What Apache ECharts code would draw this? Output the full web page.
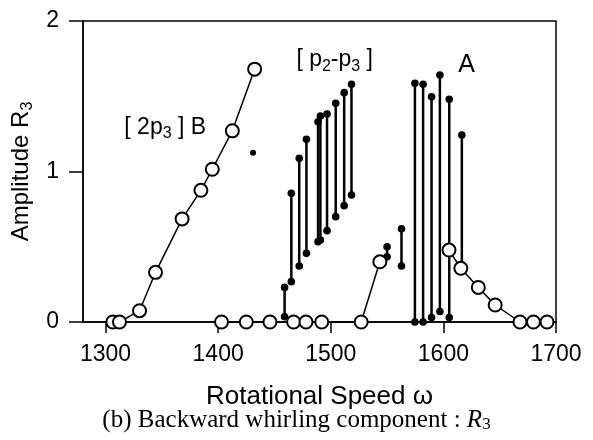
<!DOCTYPE html>
<html>
<head>
<meta charset="utf-8">
<script src="https://cdn.jsdelivr.net/npm/echarts@6/dist/echarts.min.js"></script>
<style>
  html, body { margin: 0; padding: 0; background: #fff; }
  #chart { width: 593px; height: 440px; }
</style>
</head>
<body>
<div id="chart"></div>
<script>
// Branch B (open circles, rising with speed)
const branchBX = [1306.5, 1312.4, 1330.2, 1344.4, 1368, 1384.7, 1394.8, 1412.6, 1432.4];
const branchBY = [0, 0, 0.075, 0.33, 0.685, 0.875, 1.015, 1.27, 1.68];

// Zero-amplitude branch, ending with the jump near 1540
const zeroX = [1403, 1425, 1446, 1467, 1478, 1492, 1527, 1543.6];
const zeroY = [0, 0, 0, 0, 0, 0, 0, 0.40];

// Branch A (open circles, decaying)
const branchAX = [1605, 1615.5, 1631, 1646, 1668, 1680, 1692];
const branchAY = [0.478, 0.357, 0.23, 0.113, 0, 0, 0];

// Quasi-periodic ranges: min/max amplitude at each speed
const rangeX  = [1459, 1465, 1472, 1478.4, 1488.7, 1490.8, 1496.7, 1504.4, 1511.9, 1518.4, 1550, 1562.8, 1574.7, 1582, 1589.5, 1596.9, 1605.2, 1616.4];
const rangeLo = [0.035, 0.268, 0.372, 0.456, 0.534, 0.545, 0.607, 0.70, 0.773, 0.844, 0.434, 0.372, 0, 0, 0.03, 0.07, 0.03, 0.357];
const rangeHi = [0.23, 0.855, 1.088, 1.214, 1.331, 1.369, 1.382, 1.453, 1.524, 1.579, 0.50, 0.62, 1.586, 1.58, 1.497, 1.641, 1.48, 1.243];

// Isolated point
const loneX = [1431];
const loneY = [1.125];

// Axis ticks
const xTicks = [1300, 1400, 1500, 1600, 1700];
const yTicks = [0, 1, 2];

const zip = (xs, ys) => xs.map((x, i) => [x, ys[i]]);

const sans = 'Liberation Sans, Arial, sans-serif';
const serif = 'Liberation Serif, Times New Roman, serif';

const openCircle = {
  symbol: 'circle',
  symbolSize: 13,
  itemStyle: { color: '#fff', borderColor: '#000', borderWidth: 2 },
  lineStyle: { color: '#000', width: 1.5 },
  clip: false,
  z: 4,
  animation: false
};

const chart = echarts.init(document.getElementById('chart'), null, { renderer: 'canvas' });

chart.setOption({
  animation: false,
  backgroundColor: '#fff',
  grid: {
    left: 83, right: 37, top: 21, bottom: 118,
    outerBoundsMode: 'none',
    containLabel: false,
    show: true, borderColor: '#000', borderWidth: 1.5, backgroundColor: 'transparent'
  },
  xAxis: {
    type: 'value',
    min: 1280, max: 1700,
    name: 'Rotational Speed ω',
    nameLocation: 'middle',
    nameGap: 62,
    nameTextStyle: { fontFamily: sans, fontSize: 26, color: '#000' },
    axisLine: { show: true, onZero: false, lineStyle: { color: '#000', width: 1.5 } },
    axisTick: { show: true, length: 11, customValues: xTicks, lineStyle: { color: '#000', width: 1.5 } },
    axisLabel: { customValues: xTicks, margin: 21, fontFamily: sans, fontSize: 23, color: '#000',
      formatter: v => String(v) },
    splitLine: { show: false }
  },
  yAxis: {
    type: 'value',
    min: 0, max: 2, interval: 1,
    name: 'Amplitude R{s|3}',
    nameLocation: 'middle',
    nameRotate: 90,
    nameGap: 45,
    nameTextStyle: {
      fontFamily: sans, fontSize: 24, color: '#000',
      rich: { s: { fontFamily: sans, fontSize: 16, color: '#000', verticalAlign: 'bottom', padding: [12, 0, 0, 0] } }
    },
    axisLine: { show: true, lineStyle: { color: '#000', width: 1.5 } },
    axisTick: { show: true, length: 14, lineStyle: { color: '#000', width: 1.5 } },
    axisLabel: { margin: 24, fontFamily: sans, fontSize: 23, color: '#000',
      customValues: yTicks, formatter: v => String(v) },
    splitLine: { show: false }
  },
  graphic: [{
    type: 'text',
    left: 'center',
    top: 408,
    style: {
      text: '(b) Backward whirling component : {i|R}{s|3}',
      font: '25px ' + serif,
      fill: '#000',
      rich: {
        i: { font: 'italic 25px ' + serif, fill: '#000' },
        s: { font: '17px ' + serif, fill: '#000', verticalAlign: 'bottom', padding: [9, 0, 0, 0] }
      }
    }
  }],
  series: [
    {
      // vertical min-max bars with filled end points
      type: 'custom',
      data: rangeX.map((x, i) => [x, rangeLo[i], rangeHi[i]]),
      clip: false,
      z: 3,
      renderItem: function (params, api) {
        const x = api.value(0);
        const lo = api.coord([x, api.value(1)]);
        const hi = api.coord([x, api.value(2)]);
        return {
          type: 'group',
          children: [
            { type: 'line', shape: { x1: lo[0], y1: lo[1], x2: hi[0], y2: hi[1] },
              style: { stroke: '#000', lineWidth: 2.5 } },
            { type: 'circle', shape: { cx: lo[0], cy: lo[1], r: 3.8 }, style: { fill: '#000' } },
            { type: 'circle', shape: { cx: hi[0], cy: hi[1], r: 3.8 }, style: { fill: '#000' } }
          ]
        };
      }
    },
    Object.assign({ type: 'line', data: zip(branchBX, branchBY) }, openCircle),
    Object.assign({ type: 'line', data: zip(zeroX, zeroY) }, openCircle),
    Object.assign({ type: 'line', data: zip(branchAX, branchAY) }, openCircle),
    {
      type: 'scatter',
      data: zip(loneX, loneY),
      symbol: 'circle',
      symbolSize: 6,
      itemStyle: { color: '#000', opacity: 1 }
    },
    {
      // branch labels
      type: 'scatter',
      symbolSize: 0,
      silent: true,
      z: 6,
      itemStyle: { opacity: 1 },
      label: {
        show: true,
        position: 'inside',
        fontFamily: sans,
        fontSize: 23,
        color: '#000',
        formatter: p => p.data.text,
        rich: {
          s: { fontFamily: sans, fontSize: 16, color: '#000', verticalAlign: 'bottom', padding: [12, 0, 0, 0] }
        }
      },
      data: [
        { value: [1353, 1.29], text: '[ 2p{s|3} ] B' },
        { value: [1503.5, 1.74], text: '[ p{s|2}-p{s|3} ]' },
        { value: [1620.5, 1.71], text: 'A', label: { fontSize: 25 } }
      ]
    }
  ]
});
</script>
</body>
</html>
